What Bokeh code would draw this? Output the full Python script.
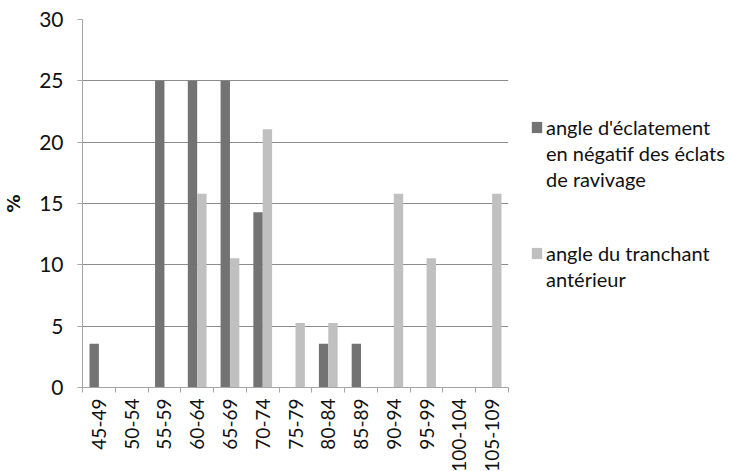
import numpy as np
from bokeh.plotting import figure
from bokeh.models import FixedTicker, Legend, LegendItem, Range1d, ColumnDataSource
from bokeh.embed import file_html
from bokeh.resources import INLINE

categories = ["45-49", "50-54", "55-59", "60-64", "65-69", "70-74", "75-79",
              "80-84", "85-89", "90-94", "95-99", "100-104", "105-109"]
eclatement = [3.57, 0, 25, 25, 25, 14.29, 0, 3.57, 3.57, 0, 0, 0, 0]
tranchant = [0, 0, 0, 15.79, 10.53, 21.05, 5.26, 5.26, 0, 15.79, 10.53, 0, 15.79]
y_ticks = [0, 5, 10, 15, 20, 25, 30]
series1_lines = ["angle d'éclatement", "en négatif des éclats", "de ravivage"]
series2_lines = ["angle du tranchant", "antérieur"]
colors = ["#737373", "#c0c0c0"]

FONT = "Lato"
FS = "21px"
n = len(categories)
idx = np.arange(n)
bw = 0.286

p = figure(output_backend="svg", toolbar_location=None,
           x_range=Range1d(0, n), y_range=Range1d(0, 30),
           frame_width=426, frame_height=368,
           min_border_left=77, min_border_top=19, min_border_right=4,
           min_border_bottom=60)
p.outline_line_color = None
p.background_fill_color = "white"
p.border_fill_color = "white"

src1 = ColumnDataSource(dict(x=idx + 0.5 - bw / 2, top=eclatement))
src2 = ColumnDataSource(dict(x=idx + 0.5 + bw / 2, top=tranchant))
r1 = p.vbar(x="x", top="top", width=bw, source=src1, fill_color=colors[0], line_color=None)
r2 = p.vbar(x="x", top="top", width=bw, source=src2, fill_color=colors[1], line_color=None)

# x axis
p.xaxis.ticker = FixedTicker(ticks=list(idx + 0.5), minor_ticks=list(range(n + 1)))
p.xaxis.major_label_overrides = {float(i + 0.5): c for i, c in enumerate(categories)}
p.xaxis.major_label_orientation = np.pi / 2
p.xaxis.major_tick_out = 0
p.xaxis.major_tick_in = 0
p.xaxis.minor_tick_out = 5
p.xaxis.minor_tick_in = 0
p.xaxis.minor_tick_line_color = "#a6a6a6"
p.xaxis.axis_line_color = "#a6a6a6"
p.xaxis.major_label_standoff = 6
p.xaxis.major_label_text_font = FONT
p.xaxis.major_label_text_font_size = "19px"
p.xaxis.major_label_text_color = "#111111"

# y axis
p.yaxis.ticker = FixedTicker(ticks=y_ticks, minor_ticks=[])
p.yaxis.major_tick_out = 5
p.yaxis.major_tick_in = 0
p.yaxis.major_tick_line_color = "#a6a6a6"
p.yaxis.axis_line_color = "#a6a6a6"
p.yaxis.major_label_standoff = 14
p.yaxis.major_label_text_font = FONT
p.yaxis.major_label_text_font_size = FS
p.yaxis.major_label_text_color = "#111111"
p.yaxis.axis_label = "%"
p.yaxis.axis_label_text_font = "DejaVu Sans"
p.yaxis.axis_label_text_font_size = "18px"
p.yaxis.axis_label_text_font_style = "bold"
p.yaxis.axis_label_text_color = "#111111"
p.yaxis.axis_label_standoff = 12

p.xgrid.grid_line_color = None
p.ygrid.grid_line_color = "#8c8c8c"
p.ygrid.grid_line_width = 1

items = [LegendItem(label=series1_lines[0], renderers=[r1])]
items += [LegendItem(label=t, renderers=[]) for t in series1_lines[1:]]
items += [LegendItem(label=" ", renderers=[]) for _ in range(3)]
items += [LegendItem(label=series2_lines[0], renderers=[r2])]
items += [LegendItem(label=t, renderers=[]) for t in series2_lines[1:]]

legend = Legend(items=items,
                location="center_left", padding=0, spacing=2, margin=22,
                border_line_color=None, background_fill_alpha=0,
                label_text_font=FONT, label_text_font_size="20px",
                label_text_color="#111111", label_standoff=3,
                glyph_width=13, glyph_height=14)
p.add_layout(legend, "right")

open("out.html", "w").write(file_html(p, INLINE))
